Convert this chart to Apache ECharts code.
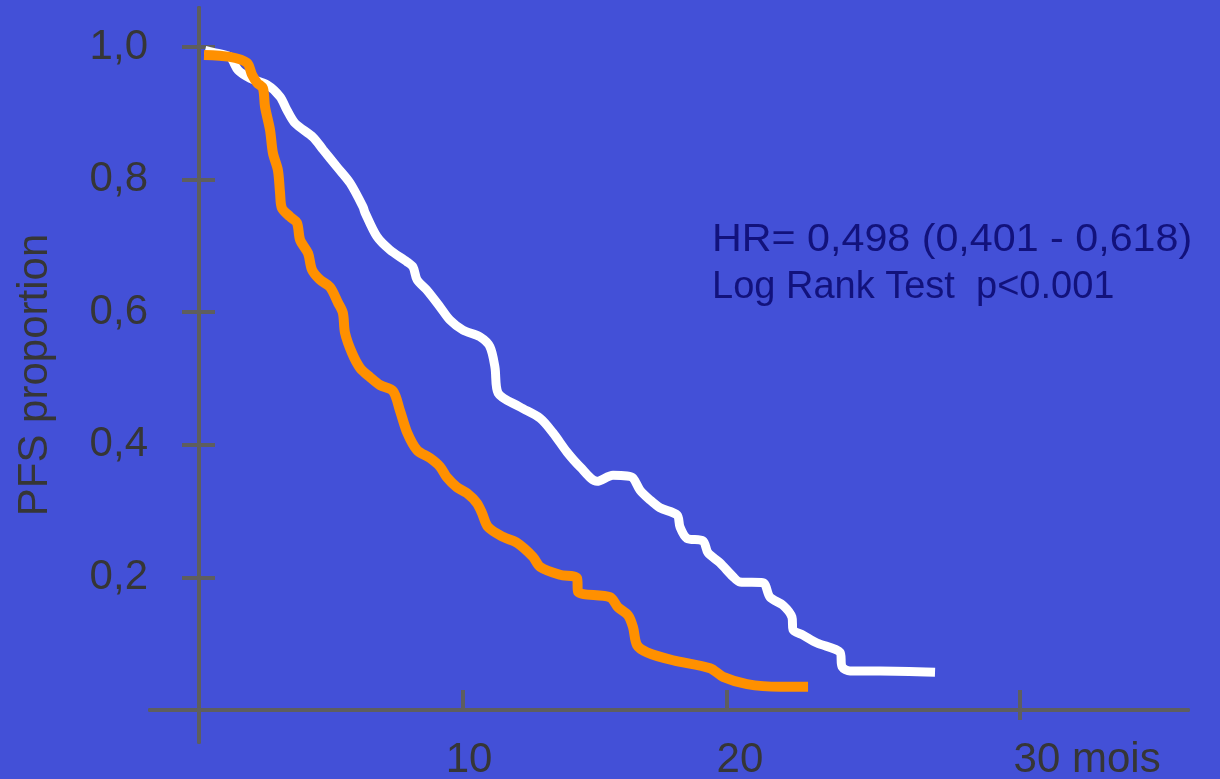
<!DOCTYPE html>
<html><head><meta charset="utf-8">
<script src="https://cdn.jsdelivr.net/npm/echarts@6/dist/echarts.min.js"></script>
<style>html,body{margin:0;padding:0;background:#4350d7}#c{width:1220px;height:779px}</style>
</head><body><div id="c"></div>
<script>
// White curve (months, PFS proportion)
const whiteMonths = [0.23,0.53,1.17,1.48,1.93,2.58,3.07,3.33,3.64,4.32,4.70,5.23,5.72,6.21,6.29,6.74,7.23,7.88,8.11,8.26,8.64,9.13,9.51,10.0,10.64,11.02,11.21,11.33,12.16,12.92,13.41,13.94,14.43,15.08,15.68,16.21,16.44,16.70,17.08,17.46,18.11,18.22,18.48,19.09,19.28,19.73,20.23,20.49,21.36,21.63,22.12,22.46,22.50,22.88,23.41,24.28,24.36,24.66,25.80,27.88];
const whitePFS = [0.995,0.992,0.985,0.965,0.953,0.943,0.925,0.905,0.885,0.864,0.845,0.819,0.795,0.759,0.750,0.714,0.694,0.676,0.668,0.649,0.633,0.608,0.588,0.573,0.563,0.548,0.517,0.478,0.457,0.440,0.418,0.389,0.367,0.345,0.354,0.353,0.350,0.332,0.317,0.305,0.294,0.276,0.259,0.255,0.237,0.222,0.201,0.193,0.192,0.170,0.158,0.140,0.121,0.113,0.101,0.087,0.065,0.059,0.059,0.057];
// Orange curve
const orangeMonths = [0.19,1.17,1.82,2.01,2.20,2.42,2.50,2.69,2.80,2.99,3.07,3.14,3.45,3.71,3.83,4.13,4.28,4.58,4.96,5.27,5.45,5.53,5.80,6.10,6.48,6.86,7.35,7.61,7.88,8.26,8.75,9.13,9.39,9.77,10.15,10.53,10.72,10.95,11.52,12.05,12.65,12.92,13.67,14.32,14.36,15.57,15.87,16.25,16.44,16.59,16.97,17.95,19.36,19.85,20.76,22.01,23.07];
const orangePFS = [0.988,0.985,0.976,0.958,0.946,0.938,0.910,0.875,0.840,0.814,0.780,0.757,0.744,0.735,0.709,0.689,0.664,0.649,0.638,0.614,0.599,0.569,0.538,0.516,0.502,0.490,0.481,0.452,0.419,0.392,0.380,0.367,0.351,0.336,0.327,0.312,0.297,0.276,0.261,0.252,0.231,0.216,0.204,0.199,0.178,0.170,0.155,0.143,0.125,0.098,0.087,0.075,0.063,0.050,0.039,0.035,0.035];
// Ticks / labels
const yTickValues = [0.2,0.4,0.6,0.8,1.0];
const yTickLabels = ['0,2','0,4','0,6','0,8','1,0'];
const xTickValues = [10,20,31.1];
const xLabelValues = [10.23,20.49,33.64];
const xLabelTexts = ['10','20','30 mois'];
const yTitle = 'PFS proportion';
const statLines = ['HR= 0,498 (0,401 - 0,618)','Log Rank Test  p<0.001'];

const zip = (a,b)=>a.map((v,i)=>[v,b[i]]);
const FONT = '"Liberation Sans", Arial, sans-serif';
const AX = '#5e5e5e';
const chart = echarts.init(document.getElementById('c'), null, {renderer:'canvas'});
const xMin = -49/26.4, xMax = 989/26.4, yMin = -32/663, yMax = 702/663;
const labelFmt = (vals, texts) => v => { const i = vals.findIndex(t=>Math.abs(t-v)<1e-6); return i>=0 ? texts[i] : ''; };
chart.setOption({
  backgroundColor:'#4350d7',
  animation:false,
  grid:{left:150,right:32,top:8,bottom:37,containLabel:false,outerBoundsMode:'none'},
  xAxis:[{
    type:'value',position:'bottom',min:xMin,max:xMax,
    axisLine:{onZero:true,lineStyle:{color:AX,width:4}},
    axisTick:{show:true,inside:true,length:20,customValues:xTickValues,lineStyle:{color:AX,width:4}},
    axisLabel:{customValues:xLabelValues,formatter:labelFmt(xLabelValues,xLabelTexts),
      color:'#363636',fontSize:42,fontFamily:FONT,margin:-3},
    splitLine:{show:false}
  },{
    type:'value',position:'bottom',min:xMin,max:xMax,
    axisLine:{onZero:true,lineStyle:{color:AX,width:4}},
    axisTick:{show:true,inside:false,length:10,customValues:[xTickValues[2]],lineStyle:{color:AX,width:4}},
    axisLabel:{show:false},splitLine:{show:false}
  }],
  yAxis:[{
    type:'value',position:'left',min:yMin,max:yMax,
    name:yTitle,nameLocation:'middle',nameRotate:90,nameGap:94,nameMoveOverlap:false,
    nameTextStyle:{color:'#363636',fontSize:42,fontFamily:FONT},
    axisLine:{onZero:true,lineStyle:{color:AX,width:4}},
    axisTick:{show:true,inside:false,length:17,customValues:yTickValues,lineStyle:{color:AX,width:4}},
    axisLabel:{customValues:yTickValues,formatter:labelFmt(yTickValues,yTickLabels),
      color:'#363636',fontSize:42,fontFamily:FONT,margin:2},
    splitLine:{show:false}
  },{
    type:'value',position:'left',min:yMin,max:yMax,
    axisLine:{onZero:true,lineStyle:{color:AX,width:4}},
    axisTick:{show:true,inside:true,length:16,customValues:yTickValues,lineStyle:{color:AX,width:4}},
    axisLabel:{show:false},splitLine:{show:false}
  }],
  series:[
    {type:'line',data:zip(whiteMonths,whitePFS),showSymbol:false,smooth:0.3,lineStyle:{color:'#ffffff',width:9},z:3},
    {type:'line',data:zip(orangeMonths,orangePFS),showSymbol:false,smooth:0.3,lineStyle:{color:'#ff9000',width:10},z:4}
  ],
  graphic:[
    {type:'text',x:712,y:222,scaleX:1.085,style:{text:statLines[0],fill:'#12127c',font:'38px '+FONT,verticalAlign:'top'}},
    {type:'text',x:712,y:269,scaleX:1.0,style:{text:statLines[1],fill:'#12127c',font:'38px '+FONT,verticalAlign:'top'}}
  ]
});
</script></body></html>
